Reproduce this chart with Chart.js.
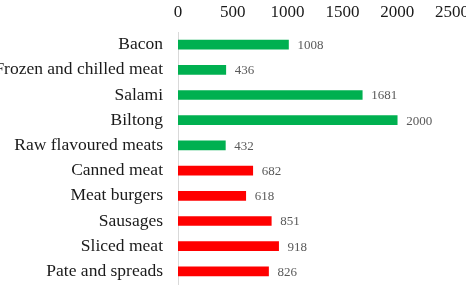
<!DOCTYPE html>
<html>
<head>
<meta charset="utf-8">
<script src="https://cdn.jsdelivr.net/npm/chart.js@4.4.0/dist/chart.umd.min.js"></script>
<style>
  html, body { margin: 0; padding: 0; background: #fff; }
  #wrap { width: 466px; height: 287px; }
</style>
</head>
<body>
<div id="wrap"><canvas id="meatChart" width="466" height="287"></canvas></div>
<script>
// Chart data
const categories = ['Bacon', 'Frozen and chilled meat', 'Salami', 'Biltong', 'Raw flavoured meats',
    'Canned meat', 'Meat burgers', 'Sausages', 'Sliced meat', 'Pate and spreads'];
const values = [1008, 436, 1681, 2000, 432, 682, 618, 851, 918, 826];
const barColors = ['#00B050', '#00B050', '#00B050', '#00B050', '#00B050',
    '#FF0000', '#FF0000', '#FF0000', '#FF0000', '#FF0000'];
const xTicks = [0, 500, 1000, 1500, 2000, 2500];

const serif = "'Liberation Serif', 'Times New Roman', serif";

// draw the value next to each bar
const valueLabels = {
    id: 'valueLabels',
    afterDatasetsDraw(chart) {
        const c = chart.ctx;
        const meta = chart.getDatasetMeta(0);
        c.save();
        c.font = '13px ' + serif;
        c.fillStyle = '#595959';
        c.textAlign = 'left';
        c.textBaseline = 'middle';
        meta.data.forEach((bar, i) => {
            c.fillText(values[i], bar.x + 9, bar.y + 1);
        });
        c.restore();
    }
};

new Chart(document.getElementById('meatChart'), {
    type: 'bar',
    data: {
        labels: categories,
        datasets: [{
            data: values,
            backgroundColor: barColors,
            borderWidth: 0,
            barThickness: 9
        }]
    },
    options: {
        indexAxis: 'y',
        responsive: false,
        animation: false,
        layout: { autoPadding: false, padding: { top: 0, right: 14, bottom: 3, left: 0 } },
        plugins: {
            legend: { display: false },
            tooltip: { enabled: false }
        },
        scales: {
            x: {
                position: 'top',
                min: 0,
                max: 2500,
                afterBuildTicks: axis => { axis.ticks = xTicks.map(v => ({ value: v })); },
                afterFit: axis => {
                    // let the last tick label run off the canvas like the original
                    axis.height = 32;
                    axis.paddingLeft = 0;
                    axis.paddingRight = 0;
                },
                grid: { display: false, drawTicks: false },
                border: { display: false },
                ticks: {
                    padding: 9,
                    color: '#1a1a1a',
                    font: { family: serif, size: 17 },
                    callback: v => String(v)
                }
            },
            y: {
                afterFit: axis => {
                    axis.width = 178;
                    axis.paddingTop = 0;
                    axis.paddingBottom = 0;
                },
                grid: { display: false, drawTicks: false },
                border: { display: true, color: '#d9d9d9', width: 1 },
                ticks: {
                    autoSkip: false,
                    padding: 15,
                    color: '#1a1a1a',
                    font: { family: serif, size: 17.5 }
                }
            }
        }
    },
    plugins: [valueLabels]
});
</script>
</body>
</html>
